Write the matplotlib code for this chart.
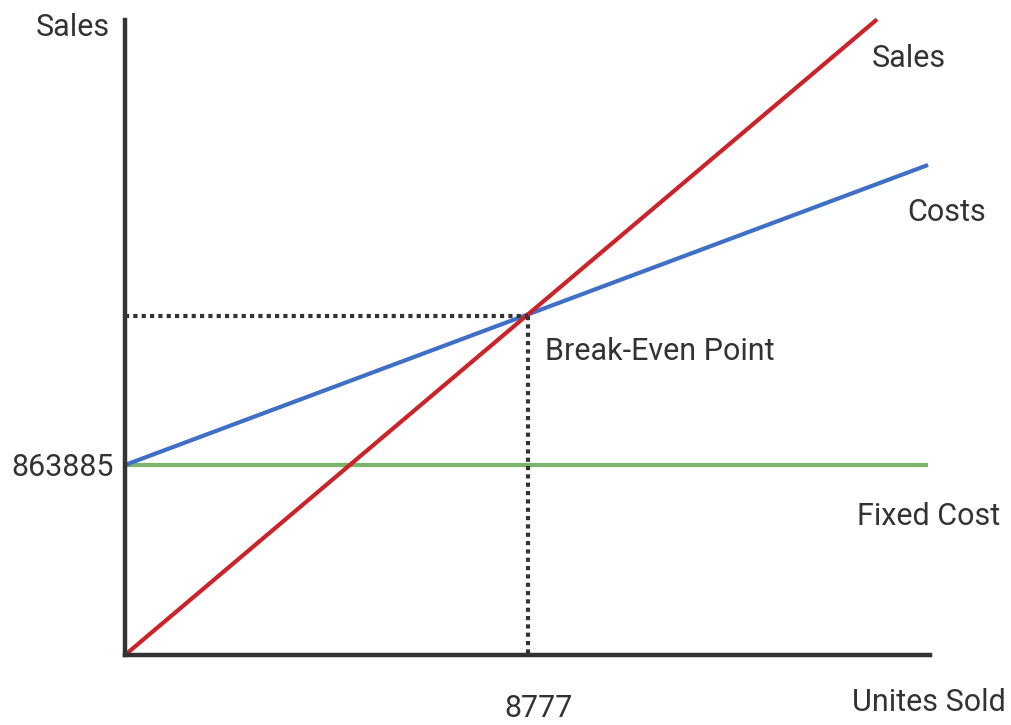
import matplotlib.pyplot as plt

plt.rcParams['font.family'] = ['Roboto', 'DejaVu Sans']

# break-even figures
fixed_cost = 863885
be_units = 8777
be_sales = 1540000

# line end points (units sold, amount)
sales_units = [0, 16380]
sales_vals = [0, 2890000]
cost_units = [0, 17490]
cost_vals = [fixed_cost, 2228000]
fixed_units = [0, 17490]
fixed_vals = [fixed_cost, fixed_cost]

x_max = 17533
y_max = 2887000

text_col = '#333333'
axis_col = '#333333'

fig = plt.figure(figsize=(10.11, 7.25), dpi=100)
ax = fig.add_axes([125 / 1011, 70 / 725, 805 / 1011, 635 / 725])

ax.plot(fixed_units, fixed_vals, color='#7bb56a', lw=3, solid_capstyle='butt')
ax.plot(cost_units, cost_vals, color='#3f6fc6', lw=3, solid_capstyle='butt')
ax.plot(sales_units, sales_vals, color='#cc2229', lw=3, solid_capstyle='butt', clip_on=False)

# dotted guides to the break-even point
ax.plot([0, be_units], [be_sales, be_sales], color=axis_col, lw=3,
        linestyle=(0, (1, 1)))
ax.plot([be_units, be_units], [be_sales, 0], color=axis_col, lw=3,
        linestyle=(0, (1, 1)))

ax.set_xlim(0, x_max)
ax.set_ylim(0, y_max)

for s in ['top', 'right']:
    ax.spines[s].set_visible(False)
for s in ['left', 'bottom']:
    ax.spines[s].set_color(axis_col)
    ax.spines[s].set_linewidth(3.2)

fs = 22

ax.set_xticks([])
ax.set_yticks([fixed_cost])
ax.set_yticklabels([str(fixed_cost)])
ax.tick_params(axis='y', length=0, pad=8, labelsize=fs, labelcolor=text_col)

ax.text(be_units + 240, -245000, str(be_units), ha='center', va='center',
        fontsize=fs, color=text_col, clip_on=False)
ax.text(15834, -218000, 'Unites Sold', ha='left', va='center',
        fontsize=fs, color=text_col, clip_on=False)
ax.text(-1938, 2855000, 'Sales', ha='left', va='center',
        fontsize=fs, color=text_col, clip_on=False)
ax.text(16270, 2710000, 'Sales', ha='left', va='center',
        fontsize=fs, color=text_col, clip_on=False)
ax.text(17032, 2009700, 'Costs', ha='left', va='center',
        fontsize=fs, color=text_col, clip_on=False)
ax.text(15943, 627500, 'Fixed Cost', ha='left', va='center',
        fontsize=fs, color=text_col, clip_on=False)
ax.text(9148, 1377700, 'Break-Even Point', ha='left', va='center',
        fontsize=fs, color=text_col, clip_on=False)

fig.savefig('out.png', dpi=100)
